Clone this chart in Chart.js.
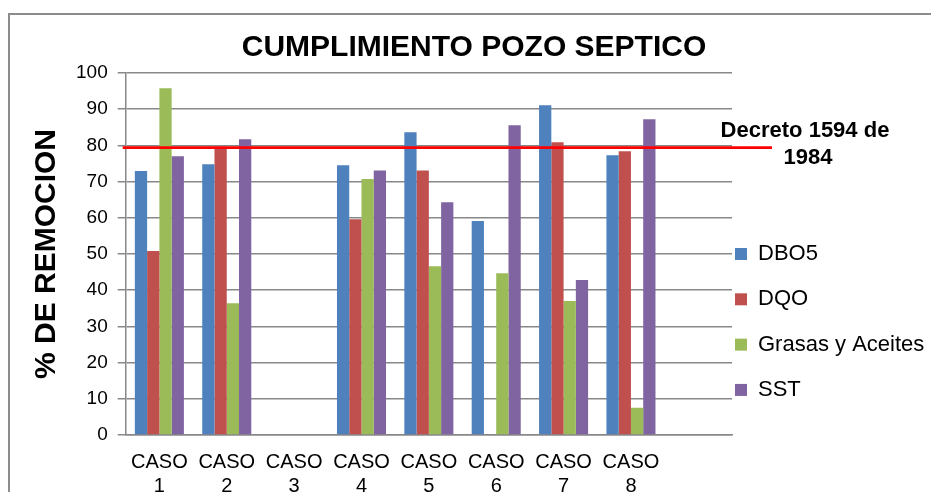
<!DOCTYPE html>
<html>
<head>
<meta charset="utf-8">
<script src="https://cdn.jsdelivr.net/npm/chart.js@4"></script>
<style>
    html, body { margin: 0; padding: 0; background: #fff; overflow: hidden; }
    #wrap { position: relative; width: 931px; height: 492px; }
    #frame { position: absolute; left: 8px; top: 13px; width: 1000px; height: 600px; border: 2px solid #8c8c8c; box-sizing: border-box; }
    #chart { position: absolute; left: 0; top: 0; }
</style>
</head>
<body>
<div id="wrap">
    <div id="frame"></div>
    <canvas id="chart" width="931" height="492"></canvas>
</div>
<script>
// Cumplimiento pozo septico - % de remocion por caso

const casos = ['CASO 1', 'CASO 2', 'CASO 3', 'CASO 4', 'CASO 5', 'CASO 6', 'CASO 7', 'CASO 8', ''];
const dbo5 = [72.9, 74.8, null, 74.5, 83.6, 59.1, 91.1, 77.3, null];
const dqo = [50.8, 79.0, null, 59.6, 73.1, null, 80.9, 78.4, null];
const grasas = [95.8, 36.4, null, 70.7, 46.6, 44.7, 37.0, 7.5, null];
const sst = [77.0, 81.7, null, 73.1, 64.3, 85.6, 42.8, 87.2, null];
const yTicks = [0, 10, 20, 30, 40, 50, 60, 70, 80, 90, 100];
const limite = 79.4;
const limiteTexto = ['Decreto 1594 de', '1984'];

const fuente = "'Liberation Sans', Arial, sans-serif";

// Linea roja del decreto con su texto
const decretoPlugin = {
    id: 'decreto',
    afterDatasetsDraw(chart) {
        const { ctx, chartArea, scales } = chart;
        const y = scales.y.getPixelForValue(limite);
        ctx.save();
        ctx.strokeStyle = '#ff0000';
        ctx.lineWidth = 2.8;
        ctx.beginPath();
        ctx.moveTo(chartArea.left - 3, y);
        ctx.lineTo(chartArea.right + 40, y);
        ctx.stroke();

        ctx.fillStyle = '#000';
        ctx.font = 'bold 22px ' + fuente;
        ctx.textAlign = 'center';
        ctx.textBaseline = 'middle';
        ctx.fillText(limiteTexto[0], chartArea.right + 73, y - 17);
        ctx.fillText(limiteTexto[1], chartArea.right + 76, y + 10);
        ctx.restore();
    }
};

new Chart(document.getElementById('chart'), {
    type: 'bar',
    data: {
        labels: casos,
        datasets: [
            { label: 'DBO5', data: dbo5, backgroundColor: '#4f81bd' },
            { label: 'DQO', data: dqo, backgroundColor: '#c0504d' },
            { label: 'Grasas y Aceites', data: grasas, backgroundColor: '#9bbb59' },
            { label: 'SST', data: sst, backgroundColor: '#8064a2' }
        ]
    },
    options: {
        responsive: false,
        animation: false,
        layout: { padding: { left: 17, right: 0, top: 0, bottom: 0 } },
        datasets: {
            bar: { categoryPercentage: 0.728, barPercentage: 1.0, borderWidth: 0 }
        },
        plugins: {
            title: {
                display: true,
                text: 'CUMPLIMIENTO POZO SEPTICO',
                color: '#000',
                font: { family: fuente, size: 30, weight: 'bold', lineHeight: 1.2 },
                padding: { top: 30, bottom: 7 }
            },
            legend: {
                position: 'right',
                align: 'start',
                maxWidth: 199,
                title: {
                    display: true,
                    text: '',
                    font: { size: 10, lineHeight: 1 },
                    padding: { top: 230, bottom: 0 }
                },
                labels: {
                    color: '#000',
                    boxWidth: 12,
                    boxHeight: 12,
                    padding: 3,
                    font: { family: fuente, size: 22, lineHeight: 1.923 },
                    generateLabels: (chart) =>
                        Chart.defaults.plugins.legend.labels.generateLabels(chart)
                            .map(item => ({ ...item, text: [item.text] }))
                }
            },
            tooltip: { enabled: false }
        },
        scales: {
            x: {
                afterFit: (scale) => { scale.height = 57; },
                grid: { display: false, drawTicks: false },
                border: { display: true, color: '#888', width: 1.5 },
                ticks: {
                    color: '#000',
                    padding: 15,
                    autoSkip: false,
                    maxRotation: 0,
                    font: { family: fuente, size: 20, lineHeight: 1.2 },
                    callback: (value, i) => casos[i].split(' ')
                }
            },
            y: {
                min: 0,
                max: 100,
                afterFit: (scale) => { scale.width = 108.7; },
                afterBuildTicks: (scale) => { scale.ticks = yTicks.map(v => ({ value: v })); },
                grid: { color: '#888', lineWidth: 1.5, tickLength: 8 },
                border: { display: true, color: '#888', width: 1.5 },
                ticks: {
                    color: '#000',
                    padding: 10,
                    font: { family: fuente, size: 19 }
                },
                title: {
                    display: true,
                    text: '% DE REMOCION',
                    color: '#000',
                    font: { family: fuente, size: 30, weight: 'bold', lineHeight: 1.2 },
                    padding: { top: 11.5, bottom: 4 }
                }
            }
        }
    },
    plugins: [decretoPlugin]
});
</script>
</body>
</html>
